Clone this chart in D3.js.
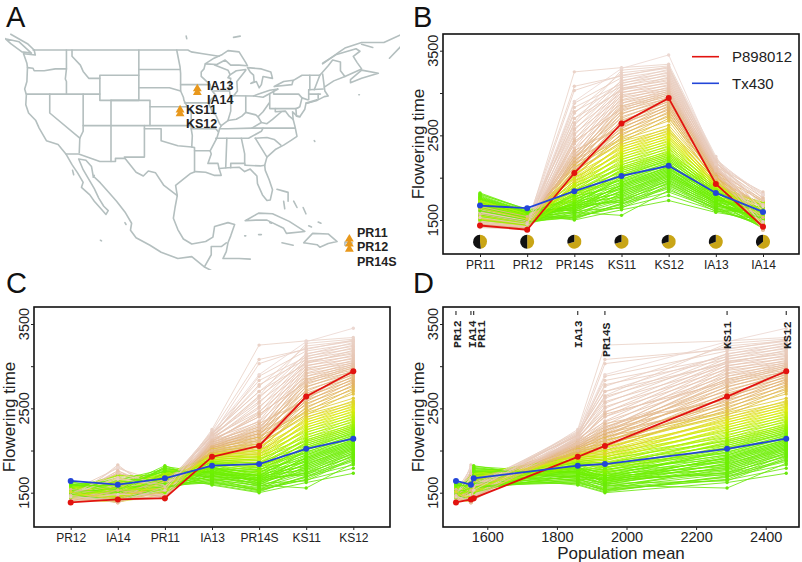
<!DOCTYPE html>
<html><head><meta charset="utf-8">
<script src="https://cdn.jsdelivr.net/npm/d3@7/dist/d3.min.js"></script>
<style>html,body{margin:0;padding:0;background:#fff}svg{display:block}text{font-family:"Liberation Sans",Arial,sans-serif}</style>
</head><body><svg id="c" width="802" height="562"></svg>
<script>
// ---------- environments ----------
const envB = ["PR11","PR12","PR14S","KS11","KS12","IA13","IA14"];
const envC = ["PR12","IA14","PR11","IA13","PR14S","KS11","KS12"];
const envMean = {PR12:1510,IA14:1553,PR11:1561,IA13:1860,PR14S:1938,KS11:2289,KS12:2459};
const piePR = {PR11:.52,PR12:.5,PR14S:.3,KS11:.3,KS12:.3,IA13:.31,IA14:.36};
const refP898012 = {PR11:1435,PR12:1385,PR14S:2055,KS11:2640,KS12:2940,IA13:1925,IA14:1420};
const refTx430   = {PR11:1670,PR12:1640,PR14S:1840,KS11:2020,KS12:2140,IA13:1820,IA14:1595};
const yTicks = [1500,2000,2500,3000,3500];
const yLabels = [1500,2500,3500];
const xTicksD = [1600,1800,2000,2200,2400];
// ---------- hybrids: one value per hybrid, per environment ----------
const fKS12 = [1730,1790,1830,1850,1870,1885,1900,1915,1925,1935,
1945,1955,1965,1975,1985,1995,2005,2012,2020,2028,
2036,2044,2052,2060,2068,2076,2084,2092,2100,2108,
2116,2124,2132,2145,2155,2165,2175,2185,2195,2205,
2215,2225,2235,2245,2255,2265,2275,2285,2295,2305,
2320,2335,2350,2365,2380,2395,2410,2425,2440,2455,
2470,2485,2500,2515,2530,2545,2560,2575,2590,2620,
2670,2700,2720,2740,2760,2780,2800,2820,2835,2850,
2865,2880,2895,2905,2915,2925,2935,2945,2955,2965,
2975,2985,2995,3005,3015,3025,3035,3045,3055,3070,
3085,3100,3115,3130,3145,3160,3175,3190,3205,3220,
3235,3250,3265,3280,3295,3300,3310,3320,3340,3450];
const fKS11 = [1620,1650,1690,1555,1700,1720,1640,1660,1740,1730,
1680,1760,1780,1710,1800,1740,1820,1770,1840,1790,
1850,1810,1870,1830,1890,1860,1905,1880,1920,1900,
1935,1950,1915,1965,1985,1945,2005,1975,2025,2040,
2010,2060,2035,2085,2060,2110,2080,2130,2100,2155,
2120,2190,2150,2220,2175,2250,2210,2280,2240,2310,
2270,2340,2300,2370,2330,2400,2360,2430,2390,2450,
2480,2420,2520,2460,2560,2500,2600,2540,2640,2580,
2680,2620,2720,2660,2760,2700,2800,2750,2830,2600,
2850,2780,2880,2810,2910,2840,2950,2880,2980,2920,
3010,2960,3040,3000,3060,3050,3090,3030,3120,3080,
3150,3110,3180,3140,3210,3240,3200,3270,3300,3290];
const fPR14S = [1500,1540,1520,1590,1510,1560,1610,1530,1580,1650,
1550,1620,1570,1680,1600,1640,1530,1700,1620,1660,
1590,1720,1640,1680,1610,1750,1660,1700,1630,1780,
1680,1720,1650,1800,1700,1750,1670,1830,1730,1770,
1700,1860,1760,1800,1730,1900,1790,1840,1760,1930,
1820,1880,1800,1960,1860,1920,1840,2000,1900,1960,
1880,2040,1940,2000,1920,2080,1980,2040,1960,2120,
2020,2080,2000,2160,2060,2120,2040,2200,2100,2160,
2080,2240,2140,2200,2120,2280,2180,2240,2160,2320,
2220,2280,2200,2430,2260,2340,2240,2400,2300,2460,
2350,2520,2400,2580,2450,2640,2500,2700,2560,2780,
2620,2830,2880,2700,3030,2760,3080,2650,3250,2900];
const fIA13 = [1590,1610,1630,1650,1600,1640,1670,1620,1660,1690,
1630,1680,1710,1650,1700,1730,1670,1720,1750,1690,
1740,1700,1760,1720,1780,1740,1700,1770,1800,1750,
1790,1730,1810,1770,1830,1790,1750,1840,1800,1860,
1780,1850,1820,1880,1800,1870,1840,1900,1830,1890,
1860,1920,1850,1910,1880,1940,1870,1930,1900,1960,
1890,1950,1920,1980,1910,1970,1940,2000,1930,1990,
1960,2020,1950,2010,1980,2040,1970,2030,2000,2060,
1990,2050,2020,2080,2000,2070,2040,2100,2030,2090,
2060,2120,2050,2110,2080,2140,2070,2130,2100,2160,
2090,2150,2120,2180,2100,2170,2140,2200,2130,2190,
2160,2220,2150,2210,2180,2190,2230,2170,2250,2200];
const fPR11 = [1700,1620,1820,1560,1750,1640,1800,1580,1680,1790,
1600,1760,1530,1720,1660,1810,1570,1690,1740,1610,
1770,1550,1650,1730,1590,1780,1700,1520,1670,1750,
1630,1710,1540,1760,1600,1680,1740,1510,1650,1720,
1580,1700,1500,1670,1750,1560,1640,1710,1530,1680,
1620,1730,1490,1600,1690,1550,1650,1720,1510,1630,
1700,1570,1480,1660,1540,1610,1690,1500,1640,1590,
1680,1520,1620,1470,1570,1650,1530,1600,1480,1640,
1560,1450,1610,1510,1660,1490,1580,1440,1630,1540,
1470,1600,1520,1430,1570,1490,1620,1460,1550,1420,
1590,1500,1440,1560,1480,1610,1450,1530,1410,1570,
1470,1540,1430,1590,1500,1450,1560,1420,1480,1520];
const fPR12 = [1560,1500,1620,1470,1580,1520,1630,1490,1550,1600,
1510,1590,1460,1560,1530,1610,1480,1540,1580,1500,
1600,1450,1530,1570,1490,1590,1520,1440,1550,1580,
1500,1560,1460,1600,1510,1540,1570,1450,1520,1560,
1480,1550,1440,1530,1590,1470,1510,1560,1450,1540,
1500,1570,1430,1490,1540,1460,1520,1580,1440,1500,
1550,1470,1420,1530,1450,1500,1560,1430,1510,1480,
1540,1440,1500,1420,1470,1530,1450,1490,1410,1520,
1460,1400,1510,1440,1540,1430,1480,1410,1520,1450,
1420,1500,1440,1400,1470,1430,1510,1410,1460,1400,
1490,1430,1410,1470,1420,1520,1400,1450,1390,1480,
1420,1460,1400,1490,1440,1410,1470,1390,1430,1450];
const fIA14 = [1500,1460,1560,1420,1620,1480,1530,1440,1600,1510,
1450,1570,1410,1540,1640,1470,1520,1590,1430,1550,
1610,1460,1510,1400,1570,1650,1490,1530,1440,1590,
1480,1620,1420,1550,1680,1500,1460,1600,1410,1530,
1640,1450,1570,1490,1430,1610,1520,1700,1460,1550,
1400,1590,1480,1650,1440,1530,1710,1420,1570,1500,
1620,1460,1390,1550,1680,1430,1510,1600,1410,1660,
1480,1390,1570,1640,1440,1720,1500,1400,1600,1450,
1680,1530,1380,1620,1470,1740,1420,1560,1650,1390,
1490,1700,1440,1590,1380,1760,1510,1420,1640,1470,
1730,1400,1550,1680,1450,1790,1530,1420,1830,1610,
1480,1760,1410,1660,1810,1500,1600,1720,1450,1800];
const fByEnv = {PR11:fPR11,PR12:fPR12,PR14S:fPR14S,KS11:fKS11,KS12:fKS12,IA13:fIA13,IA14:fIA14};
// ---------- map (lon, lat polylines) ----------
const borders = [
[[-124.7,48.4],[-124.1,46.9],[-124,46.2],[-124.1,44],[-124.5,42.8],[-124.2,41.9],[-124.3,40.3],[-123.8,39],[-122.5,37.8],[-121.9,36.6],[-120.6,34.6],[-118.5,34],[-117.1,32.5],[-116,30.8],[-115,29.5],[-114,28],[-114.3,27.2],[-112.8,26],[-112,25],[-111,24],[-109.9,22.9],[-109.5,23.5],[-110.3,24.2],[-111.2,25.5],[-112,27],[-113,28.5],[-114,30],[-114.8,31.7],[-113.5,31.5],[-112.5,30.5],[-112.2,29],[-110.9,27.9],[-109.5,26.5],[-108,25],[-106.5,23.3],[-105.3,21.5],[-105.5,20.4],[-104.5,19.2],[-102,18],[-100,16.9],[-97,15.9],[-94.5,16.2],[-92.3,14.6],[-91,14],[-89,13.3]],
[[-97.1,25.9],[-97.5,24],[-97.8,22.3],[-97,20.5],[-96,19],[-94.5,18.2],[-92,18.6],[-90.7,19.3],[-90.4,21],[-88,21.6],[-86.8,21.3],[-87.5,19.5],[-88,18.4],[-88.3,17],[-88.9,15.9],[-86,15.9],[-84,15.8]],
[[-92.2,14.6],[-91,16.5],[-91,17.8],[-89.2,17.8],[-88.3,18.4]],
[[-97.1,25.9],[-97.4,27.5],[-96,28.5],[-94.7,29.4],[-93.8,29.7],[-92,29.6],[-90.5,29.1],[-89.2,29.1],[-89.6,30.2],[-88,30.3],[-86,30.4],[-85,29.7],[-84,30.1],[-82.8,29],[-82.7,27.8],[-81.8,26],[-81,25.1],[-80.4,25.2],[-80,26.8],[-80.6,28.4],[-81.3,29.9],[-81.4,30.7],[-81,32],[-79.5,33.2],[-78,33.9],[-76.6,34.7],[-75.6,35.3],[-75.9,36.6],[-76,37],[-76.3,38],[-76.4,39.2],[-75.6,38.5],[-75.1,38.4],[-74.2,39.6],[-74,40.5],[-72,41],[-70.7,41.6],[-70,41.7],[-70.6,42.5],[-70.7,43.1],[-69,44.1],[-67,44.8],[-67.8,45.7],[-67.8,47.1],[-69.2,47.4],[-70,46.5],[-71.5,45],[-74.7,45],[-76.4,44.1]],
[[-71,46.8],[-68,48.7],[-67,49.3],[-64,50.2],[-60,50.2],[-57,51.4]],
[[-71,46.9],[-68.5,48.3],[-65,49.2],[-64.3,48.8],[-65.5,48],[-64.8,47],[-64,46],[-66,45.2],[-67,44.8]],
[[-66,43.8],[-64,44.5],[-61,45.3],[-64,45.8],[-66,44.3],[-66,43.8]],
[[-59,47.7],[-56.5,50]],[[-62,49.4],[-64,49.9]],
[[-123,49],[-95.2,49],[-94.6,48.7],[-92.5,48.4],[-89.6,48]],
[[-128,50.8],[-125.5,50.3],[-123.3,48.5],[-125,48.7],[-127,50],[-128,50.8]],
[[-122.8,49],[-124,50],[-127,51.5]],[[-124.7,48.4],[-122.6,48.2],[-122.8,49]],
[[-92.1,46.8],[-90.5,47.7],[-89,48.3],[-88,48.9],[-86,48.7],[-84.8,47],[-84.5,46.5],[-86,46.6],[-87.5,46.6],[-88.5,47.4],[-90,46.7],[-92.1,46.8]],
[[-84.8,45.9],[-86.5,45.7],[-87.7,45],[-88,44.6],[-87.5,44.5],[-87.8,43],[-87.6,41.8],[-87,41.7],[-86.3,42.5],[-86.4,44],[-85.5,45],[-84.8,45.8]],
[[-84.5,46.2],[-84,45.5],[-83.4,45],[-83.3,44],[-83.9,43.7],[-82.9,44],[-82.4,43],[-82,43.5],[-81.7,44.8],[-80,44.5],[-80.3,45.5],[-82,46],[-84.5,46.2]],
[[-83.4,41.7],[-81.7,41.5],[-79,42.8],[-80.5,42.6],[-82.5,42],[-83.4,41.7]],
[[-79.7,43.2],[-76.5,43.5],[-76.3,44.2],[-78,44],[-79.7,43.2]],
[[-124,46.2],[-123,46.1],[-122.8,45.7],[-121,45.7],[-119,46],[-117,46]],
[[-117,49],[-117,46],[-117.2,44.4],[-117,44],[-117,42]],
[[-124.2,42],[-111,42]],
[[-116,49],[-116,48],[-114.5,46.6],[-114,45.6],[-113,44.5],[-111,44.5]],
[[-111,45],[-104,45],[-104,41],[-111,41],[-111,45]],
[[-104,49],[-104,45]],[[-104,45.9],[-96.6,45.9]],[[-104,43],[-98.5,43],[-96.5,42.5]],
[[-102,40],[-95.3,40]],[[-109,41],[-102,41],[-102,37]],[[-109,41],[-109,31.3]],
[[-114,42],[-114,36.1],[-114.6,35]],[[-114,37],[-94.6,37]],
[[-103,37],[-103,32],[-106.6,32]],
[[-106.5,31.8],[-108.2,31.8],[-108.2,31.3],[-111,31.3],[-114.8,32.5],[-117.1,32.5]],
[[-103,36.5],[-100,36.5],[-100,34.6],[-97,33.8],[-94.5,33.6],[-94,33.5],[-94,29.7]],
[[-106.5,31.8],[-104.5,29.6],[-103.2,29],[-102.3,29.8],[-101,29.5],[-99.5,27.5],[-97.1,25.9]],
[[-120,42],[-120,39],[-114.6,35],[-114.7,32.7]],
[[-95.3,40],[-94.6,39.1],[-94.6,36.5],[-94.4,35.4],[-94.5,33.6]],[[-94.6,36.5],[-90.2,36.5],[-89.7,36]],
[[-94,33],[-91.2,33],[-91,32.5],[-91.6,31],[-89.8,31],[-89.6,30.2]],
[[-91.2,43.5],[-91,42.7],[-90.2,41.8],[-91,41.2],[-91.4,40.4],[-90.7,39],[-90.2,38.7],[-89.5,37.3],[-89.2,37],[-89.5,36.5],[-90,35],[-91.2,33]],
[[-92.1,46.7],[-92.3,46],[-92.8,45.5],[-92.8,44.8],[-91.2,43.5]],[[-96.5,43.5],[-91.2,43.5]],
[[-97.2,49],[-96.6,46.3],[-96.5,45.3],[-96.5,43.5],[-96.5,42.5],[-96,41.5],[-95.9,41],[-95.3,40]],
[[-95.8,40.6],[-91.7,40.6],[-91.4,40.4]],[[-90.6,42.5],[-87.8,42.5]],[[-90.4,46.6],[-88,45.8],[-87.6,45.1]],
[[-87.5,41.7],[-87.5,39.3],[-88,37.8]],
[[-89.2,37],[-88,37.8],[-86.5,38],[-85.5,38.5],[-84.8,39.1],[-83,38.7],[-82.6,38.4],[-81.7,39.2],[-80.6,40.6]],
[[-84.8,39.1],[-84.8,41.7]],[[-87,41.75],[-83.4,41.7]],[[-80.5,42],[-80.5,39.7],[-75.8,39.7],[-75.5,39.8]],
[[-79.8,42.3],[-79.8,42],[-75.3,42],[-74.7,41.4],[-73.7,41.1]],[[-74.7,41.4],[-75.1,40],[-75.5,39.8]],
[[-79.5,39.7],[-79.5,39.2],[-77.7,39.3],[-77,38.5],[-76.3,38]],
[[-82.6,38.4],[-82,37.5],[-81,37.3],[-80,38],[-78.4,39.2]],[[-82,37.5],[-83.7,36.6]],
[[-89.5,36.5],[-88,36.5],[-83.7,36.6],[-75.9,36.6]],
[[-90.2,35],[-84.3,35],[-82,36.1],[-81.7,36.6]],
[[-88.2,35],[-88.4,30.3]],[[-85.6,35],[-85,32.5],[-85,31],[-84.9,30.7]],[[-87.5,30.3],[-87.5,31],[-85,31]],[[-84.9,30.7],[-82.2,30.6],[-81.4,30.7]],
[[-83.1,35],[-81,32]],[[-83.1,35],[-81,35.1],[-79.7,34.8],[-78.5,33.9]],
[[-71,45.2],[-70.7,43.1]],[[-71.5,45],[-72.5,42.7]],[[-73.3,45],[-73.3,42.7]],[[-73.5,42.7],[-70.9,42.8]],[[-73.5,42],[-71.4,42]],[[-73.5,42.7],[-73.5,41.1]],[[-71.8,42],[-71.8,41.3]],
[[-74,40.6],[-72,41.1],[-73.7,40.6]],[[-75.8,39.7],[-75.7,38.5],[-75.1,38.4]],
[[-84.9,21.9],[-82.5,23.1],[-80,23],[-77,21.8],[-74.2,20.2],[-77.5,19.9],[-78,20.7],[-81,22],[-83,22],[-84.9,21.9]],
[[-74.4,18.4],[-72.8,19.9],[-70,19.8],[-68.4,18.6],[-70,18.3],[-71.5,17.7],[-72,18.1],[-74.4,18.4]],
[[-78.3,18.4],[-76.3,18]],[[-67,18.5],[-65.7,18.4],[-66,18],[-67,18],[-67,18.5]],
[[-79.2,26.9],[-78,26.6],[-77.2,26.4],[-77.2,25]],[[-78,25],[-77.8,23.8]],[[-76.2,25],[-75.6,24]],[[-74.5,24],[-74,23]],[[-73.5,21.1],[-73,20.9]],[[-71.8,21.7],[-71.3,21.5]],
[[-95.5,51.2],[-95.4,50.8]],[[-87,51],[-85.8,51.2]],
[[-115.9,29.9],[-115.7,29.2]],[[-112,29.1],[-112.2,28.8]],[[-106.5,21.6],[-106.3,21.3]],[[-110.9,18.8],[-110.7,18.7]],[[-80.5,21.6],[-80.2,21.5]],[[-85,19.5],[-84.8,19.5]],[[-72.5,34.6],[-72.4,34.5]],[[-82.5,19.7],[-82,19.7]],[[-64.5,41.9],[-64.4,41.9]]
];
const sites = [["IA13",-93.5,42.85],["IA14",-93.5,42.25],["KS11",-96.6,39.5],["KS12",-96.6,38.9],["PR11",-66.2,19.0],["PR12",-66.2,18.2],["PR14S",-66.2,17.4]];
const siteLabels = ["IA13","IA14","KS11","KS12","PR11","PR12","PR14S"];

// ---------- drawing ----------
const svg = d3.select("#c");
const colorFor = d3.scaleLinear()
  .domain([1730,2150,2330,2480,2650,2800,3050,3450])
  .range(["#6ae60c","#6ef200","#a8f200","#dcea10","#e2c640","#e2b068","#e6c4b0","#ecd8d2"]);
const idx = d3.range(fKS12.length).sort((a,b)=>((a*37)%120)-((b*37)%120));

// letters
[["A",6,27],["B",413,27],["C",6,293],["D",413,293]].forEach(([t,x,y])=>
  svg.append("text").attr("x",x).attr("y",y).attr("font-size",29).attr("fill","#111").text(t));

function panel(left,top,w,h,order,xs,yOf){
  const g = svg.append("g");
  const y = d3.scaleLinear().domain([1500,3500]).range([yOf.y1500,yOf.y3500]);
  const line = d3.line().x(d=>xs(d.e)).y(d=>y(d.v));
  idx.forEach(i=>{
    const pts = order.map(e=>({e,v:fByEnv[e][i]}));
    const c = colorFor(fKS12[i]);
    g.append("path").attr("d",line(pts)).attr("fill","none").attr("stroke",c).attr("stroke-width",1).attr("stroke-opacity",.85);
    g.selectAll(null).data(pts).join("circle").attr("cx",d=>xs(d.e)).attr("cy",d=>y(d.v)).attr("r",1.7).attr("fill",c);
  });
  [[refP898012,"#e2130f",1.8],[refTx430,"#2346d8",1.8]].forEach(([ref,c,sw])=>{
    const pts = order.map(e=>({e,v:ref[e]}));
    g.append("path").attr("d",line(pts)).attr("fill","none").attr("stroke",c).attr("stroke-width",sw);
    g.selectAll(null).data(pts).join("circle").attr("cx",d=>xs(d.e)).attr("cy",d=>y(d.v)).attr("r",3).attr("fill",c);
  });
  g.append("rect").attr("x",left).attr("y",top).attr("width",w).attr("height",h).attr("fill","none").attr("stroke","#111").attr("stroke-width",1.6);
  // y axis
  const ax = g.append("g").attr("transform",`translate(${left},0)`)
    .call(d3.axisLeft(y).tickValues(yTicks).tickSize(3).tickFormat(""));
  ax.select(".domain").remove();
  ax.selectAll("line").attr("stroke","#222");
  yLabels.forEach(v=>g.append("text").attr("transform",`translate(${left-5},${y(v)}) rotate(-90)`)
    .attr("text-anchor","middle").attr("font-size",14.5).attr("fill","#222").text(v));
  g.append("text").attr("transform",`translate(${left-19},${top+110}) rotate(-90)`)
    .attr("text-anchor","middle").attr("font-size",17).attr("fill","#222").text("Flowering time");
  return {g,y};
}
function catAxis(g,top,h,xs,pad){
  const ax = g.append("g").attr("transform",`translate(0,${top+h})`)
    .call(d3.axisBottom(xs).tickSize(3).tickPadding(pad));
  ax.select(".domain").remove();
  ax.selectAll("line").attr("stroke","#222");
  ax.selectAll("text").attr("font-size",12).attr("fill","#222").attr("font-family",'"Liberation Sans",Arial,sans-serif');
}

// B
const xB = d3.scalePoint().domain(envB).range([480,763]);
const B = panel(443,34,356,220,envB,xB,{y1500:220,y3500:50.7});
catAxis(B.g,34,220,xB,3.6);
const pie = d3.pie().sort(null).value(d=>d.v);
const arc = d3.arc().innerRadius(0).outerRadius(7);
envB.forEach(e=>{
  const gp = B.g.append("g").attr("transform",`translate(${xB(e)},241.7)`);
  gp.selectAll("path").data(pie([{v:1-piePR[e],c:"#c9a516"},{v:piePR[e],c:"#111"}])).join("path")
    .attr("d",arc).attr("fill",d=>d.data.c);
});
[["P898012","#e2130f",56.7],["Tx430","#2346d8",83.3]].forEach(([t,c,y])=>{
  B.g.append("line").attr("x1",692).attr("x2",719).attr("y1",y).attr("y2",y).attr("stroke",c).attr("stroke-width",1.6);
  B.g.append("text").attr("x",732).attr("y",y+5.3).attr("font-size",15).attr("fill","#222").text(t);
});

// C
const xC = d3.scalePoint().domain(envC).range([70.7,353.3]);
const C = panel(34,307,356,220,envC,xC,{y1500:492.7,y3500:324});
catAxis(C.g,307,220,xC,3.6);

// D
const xD = d3.scaleLinear().domain([1600,2400]).range([487.3,765.7]);
const xDe = e=>xD(envMean[e]);
const D = panel(443,307,356,220,envC,xDe,{y1500:492.7,y3500:324});
const axD = D.g.append("g").attr("transform","translate(0,527)")
  .call(d3.axisBottom(xD).tickValues(xTicksD).tickSize(3).tickPadding(1.5).tickFormat(d3.format("d")));
axD.select(".domain").remove();
axD.selectAll("line").attr("stroke","#222");
axD.selectAll("text").attr("font-size",14.5).attr("fill","#222").attr("font-family",'"Liberation Sans",Arial,sans-serif');
D.g.append("text").attr("x",621).attr("y",558.5).attr("text-anchor","middle").attr("font-size",17).attr("fill","#222").text("Population mean");
const labelNudge = {PR12:5,IA14:5,PR11:11,IA13:4,PR14S:5,KS11:4,KS12:5};
const labelBase = {PR12:348,IA14:348,PR11:348,IA13:348,PR14S:357,KS11:349,KS12:349};
envC.forEach(e=>{
  D.g.append("line").attr("x1",xDe(e)).attr("x2",xDe(e)).attr("y1",311).attr("y2",315).attr("stroke","#111").attr("stroke-width",1);
  D.g.append("text").attr("transform",`translate(${xDe(e)+labelNudge[e]},${labelBase[e]}) rotate(-90)`)
    .style("font-family",'"Liberation Mono",monospace').attr("font-weight","bold").attr("font-size",11.5).attr("fill","#222").text(e);
});

// A: map
const lon = d3.scaleLinear().domain([-109,-57]).range([111,400.6]);
const lat = d3.scaleLinear().domain([49,25]).range([50,201.2]);
svg.append("clipPath").attr("id","mc").append("rect").attr("x",5).attr("y",30).attr("width",395).attr("height",240);
const mapG = svg.append("g").attr("clip-path","url(#mc)");
const ln = d3.line().x(d=>lon(d[0])).y(d=>lat(d[1]));
mapG.selectAll("path").data(borders).join("path").attr("d",ln).attr("fill","none")
  .attr("stroke","#b4bfbf").attr("stroke-width",1.6).attr("stroke-linejoin","round").attr("stroke-linecap","round");
const tri = d3.symbol().type(d3.symbolTriangle).size(34);
svg.selectAll(null).data(sites).join("path").attr("d",tri).attr("fill","#e8981c")
  .attr("transform",d=>`translate(${lon(d[1])},${lat(d[2])})`);
[[207,90],[207,104],[186,114],[186,128],[357,237],[357,251],[357,266]].forEach(([x,y],i)=>
  svg.append("text").attr("x",x).attr("y",y).attr("font-size",12.5).attr("font-weight","bold").attr("fill","#222").text(siteLabels[i]));
</script></body></html>
